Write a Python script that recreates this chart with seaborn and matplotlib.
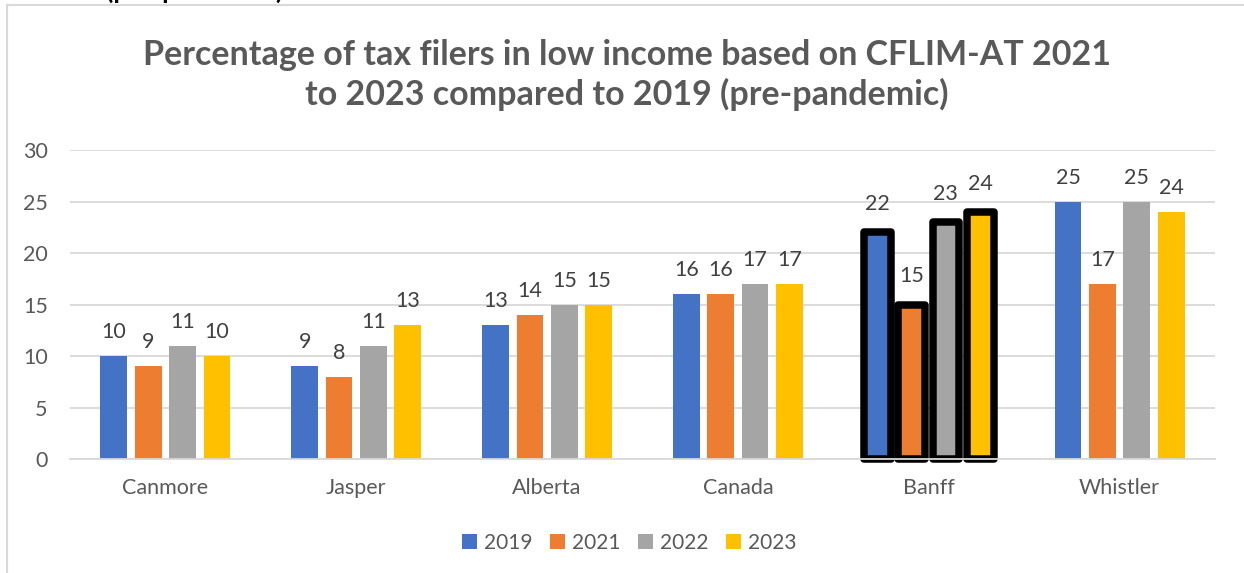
import matplotlib
matplotlib.use("Agg")
import matplotlib.pyplot as plt
from matplotlib.lines import Line2D
from matplotlib.patches import Patch
import seaborn as sns
import pandas as pd

# Values: percentage of tax filers in low income (CFLIM-AT)
places = ["Canmore", "Jasper", "Alberta", "Canada", "Banff", "Whistler"]
years = ["2019", "2021", "2022", "2023"]
pct_2019 = [10, 9, 13, 16, 22, 25]
pct_2021 = [9, 8, 14, 16, 15, 17]
pct_2022 = [11, 11, 15, 17, 23, 25]
pct_2023 = [10, 13, 15, 17, 24, 24]
year_colors = ["#4472C4", "#ED7D31", "#A5A5A5", "#FFC000"]
highlight = "Banff"

rows = []
for yr, vals in zip(years, [pct_2019, pct_2021, pct_2022, pct_2023]):
    for place, v in zip(places, vals):
        rows.append({"place": place, "year": yr, "pct": v})
df = pd.DataFrame(rows)

sns.set_theme(style="white")
plt.rcParams["font.family"] = ["Lato", "DejaVu Sans"]

fig = plt.figure(figsize=(12.44, 5.73), dpi=100)
ax = fig.add_axes([70 / 1244, 1 - 459 / 573, (1215 - 70) / 1244, (459 - 150) / 573])

sns.barplot(data=df, x="place", y="pct", hue="year", order=places,
            hue_order=years, palette=year_colors, width=0.72, gap=0.22,
            saturation=1, ax=ax, legend=False, errorbar=None)

hi = places.index(highlight)
for container in ax.containers:
    for i, bar in enumerate(container):
        if i == hi:
            bar.set_edgecolor("black")
            bar.set_linewidth(5.4)
            bar.set_joinstyle("round")
            bar.set_clip_on(False)
        else:
            bar.set_linewidth(0)
    labels = [f"{int(b.get_height())}" for b in container]
    normal = [l if i != hi else "" for i, l in enumerate(labels)]
    special = [l if i == hi else "" for i, l in enumerate(labels)]
    ax.bar_label(container, labels=normal, padding=10, fontsize=15.5, color="#404040")
    ax.bar_label(container, labels=special, padding=13, fontsize=15.5, color="#404040")

ax.set_ylim(0, 30)
ax.set_yticks(range(0, 31, 5))
ax.set_xlim(-0.5, len(places) - 0.5)
ax.grid(axis="y", color="#D9D9D9", linewidth=1.3)
ax.set_axisbelow(True)
for s in ["top", "right", "left"]:
    ax.spines[s].set_visible(False)
ax.spines["bottom"].set_color("#D9D9D9")
ax.spines["bottom"].set_linewidth(1.3)
ax.tick_params(axis="both", length=0, labelsize=15.5, colors="#595959")
ax.tick_params(axis="y", pad=16)
ax.tick_params(axis="x", pad=14)
ax.set_xlabel("")
ax.set_ylabel("")

fig.text(0.504, 1 - 75 / 573,
         "Percentage of tax filers in low income based on CFLIM-AT 2021\n"
         "to 2023 compared to 2019 (pre-pandemic)",
         ha="center", va="center", fontsize=24.5, fontweight="bold",
         color="#595959", linespacing=1.25)

# heading text partly above the chart frame
fig.text(106 / 1244, 1 + 1 / 573, "(pre-pandemic)", ha="left", va="baseline",
         fontsize=19, fontweight="bold", color="black")

# chart frame
fig.add_artist(Line2D([7 / 1244, 1.0], [1 - 5 / 573] * 2, transform=fig.transFigure,
                      color="#D9D9D9", linewidth=1.5))
fig.add_artist(Line2D([7 / 1244] * 2, [0.0, 1 - 5 / 573], transform=fig.transFigure,
                      color="#D9D9D9", linewidth=1.5))

handles = [Patch(facecolor=c, edgecolor="none") for c in year_colors]
fig.legend(handles, years, loc="center", bbox_to_anchor=(0.506, 1 - 543 / 573),
           ncol=4, frameon=False, fontsize=15, handlelength=0.7, handleheight=0.7,
           handletextpad=0.35, columnspacing=0.85, labelcolor="#595959")

fig.savefig("out.png", dpi=100, facecolor="white")
